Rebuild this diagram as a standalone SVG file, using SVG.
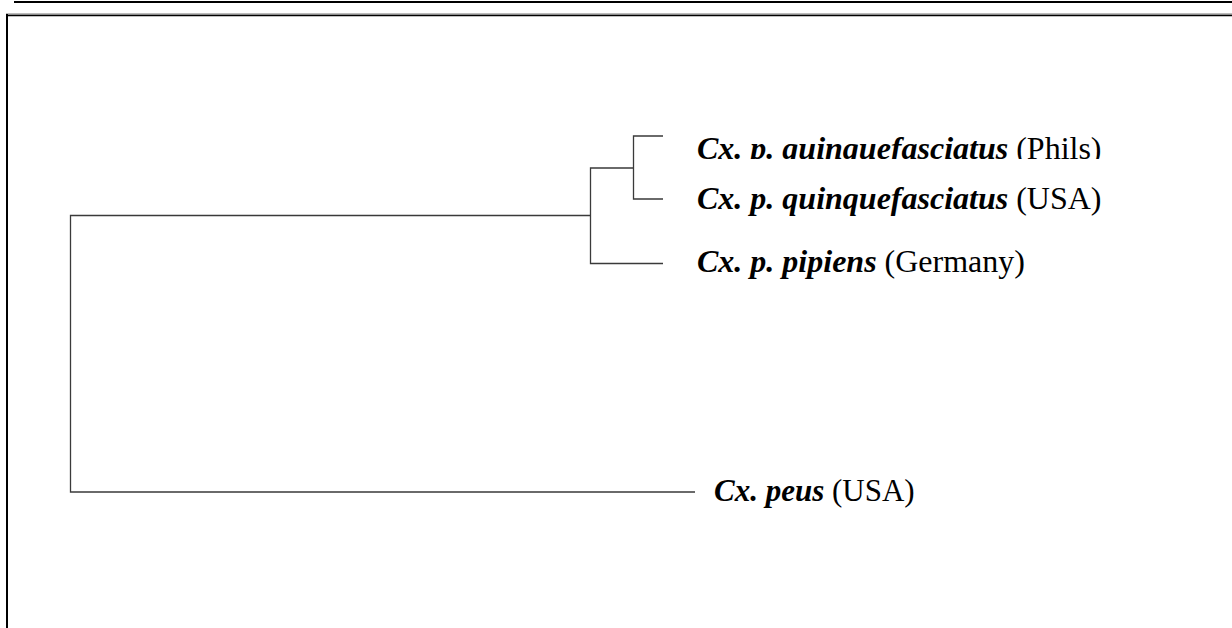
<svg xmlns="http://www.w3.org/2000/svg" width="1232" height="628" viewBox="0 0 1232 628">
<style>
.frame{stroke:#000;fill:none}
.br{stroke:#3a3a3a;stroke-width:1.3;fill:none}
.lbl{font-family:"Liberation Serif","Times New Roman",serif;font-size:32px;fill:#000}
.sm{font-size:31px}
.sp{font-weight:bold;font-style:italic}
</style>
<defs>
<clipPath id="clipPhils"><rect x="600" y="100" width="600" height="59"/></clipPath>
</defs>
<rect width="1232" height="628" fill="#fff"/>
<g id="frame">
<line class="frame" x1="14" y1="2" x2="1232" y2="2" stroke-width="2"/>
<line x1="6" y1="14" x2="1232" y2="14" stroke="#777" stroke-width="1"/>
<line class="frame" x1="6" y1="15.5" x2="1232" y2="15.5" stroke-width="1.5"/>
<line class="frame" x1="7" y1="14" x2="7" y2="628" stroke-width="2"/>
</g>
<g id="connectors">
<polyline class="br" points="663,136 633.5,136 633.5,199 663,199"/>
<polyline class="br" points="633.5,168 590.5,168 590.5,263.5 663,263.5"/>
<polyline class="br" points="590.5,215.5 70.5,215.5 70.5,492 695,492"/>
</g>
<g id="node-phils" clip-path="url(#clipPhils)">
<text class="lbl" x="697" y="159"><tspan class="sp">Cx. p. quinquefasciatus</tspan> (Phils)</text>
</g>
<g id="node-usa">
<text class="lbl" x="697" y="209"><tspan class="sp">Cx. p. quinquefasciatus</tspan> (USA)</text>
</g>
<g id="node-germany">
<text class="lbl" x="697" y="272"><tspan class="sp">Cx. p. pipiens</tspan> (Germany)</text>
</g>
<g id="node-peus">
<text class="lbl sm" x="714" y="501"><tspan class="sp">Cx. peus</tspan> (USA)</text>
</g>
</svg>
